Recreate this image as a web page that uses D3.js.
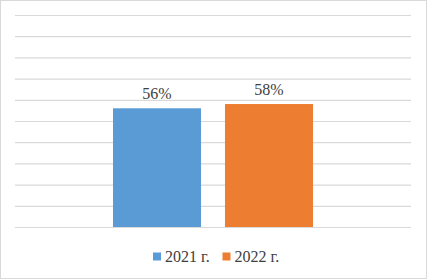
<!DOCTYPE html>
<html>
<head>
<meta charset="utf-8">
<script src="https://cdn.jsdelivr.net/npm/d3@7"></script>
<style>
  body { margin: 0; background: #fff; }
  svg { display: block; }
</style>
</head>
<body>
<svg width="427" height="279"></svg>
<script>
const categories = ["2021–2022"]
const seriesNames = ["2021 г.", "2022 г."]
const seriesValues = [56, 58]
const yTicks = [0, 10, 20, 30, 40, 50, 60, 70, 80, 90, 100]
const colors = ["#5b9bd5", "#ed7d31"]

const fontFamily = "'Times New Roman', 'Liberation Serif', Tinos, 'Nimbus Roman', 'DejaVu Serif', serif"

let svg = d3.select("svg"),
    margin = {top: 15, right: 16, bottom: 52, left: 15},
    width = +svg.attr("width") - margin.left - margin.right,
    height = +svg.attr("height") - margin.top - margin.bottom

svg.append("rect")
    .attr("x", 0.5).attr("y", 0.5)
    .attr("width", 426).attr("height", 278)
    .attr("fill", "#fff")
    .attr("stroke", "#d9d9d9")

let g = svg.append("g").attr("transform", "translate(" + margin.left + "," + margin.top + ")")

let y = d3.scaleLinear().domain([0, 100]).range([height, 0])

let x0 = d3.scaleBand().domain(categories).range([0, width]).paddingInner(0).paddingOuter(0.49)
let x1 = d3.scaleBand().domain(seriesNames).range([0, x0.bandwidth()]).paddingInner(0.214).paddingOuter(0)

// gridlines
g.append("g")
    .call(d3.axisLeft(y).tickValues(yTicks).tickSize(-width).tickFormat(""))
    .call(a => a.select(".domain").remove())
    .selectAll("line")
    .attr("stroke", "#d9d9d9")
    .attr("stroke-width", 1.2)

let data = seriesNames.map((s, i) => ({name: s, value: seriesValues[i], cat: categories[0]}))

let bars = g.selectAll(".bar")
    .data(data)
    .enter()
    .append("g")
    .attr("transform", d => "translate(" + x0(d.cat) + ",0)")

bars.append("rect")
    .attr("x", d => x1(d.name))
    .attr("y", d => y(d.value))
    .attr("width", x1.bandwidth())
    .attr("height", d => height - y(d.value))
    .attr("fill", (d, i) => colors[i])

bars.append("text")
    .attr("x", d => x1(d.name) + x1.bandwidth() / 2)
    .attr("y", d => y(d.value) - 9.5)
    .attr("text-anchor", "middle")
    .style("font-family", fontFamily)
    .style("font-size", "16px")
    .style("fill", "#404040")
    .text(d => d.value + "%")

// legend
let legendX = [153, 222.5]
let legend = svg.selectAll(".legend")
    .data(seriesNames)
    .enter()
    .append("g")
    .attr("transform", (d, i) => "translate(" + legendX[i] + ",252.5)")

legend.append("rect")
    .attr("width", 8).attr("height", 8)
    .attr("fill", (d, i) => colors[i])

legend.append("text")
    .attr("x", 12)
    .attr("y", 9.5)
    .style("font-family", fontFamily)
    .style("font-size", "16px")
    .style("fill", "#404040")
    .text(d => d)
</script>
</body>
</html>
